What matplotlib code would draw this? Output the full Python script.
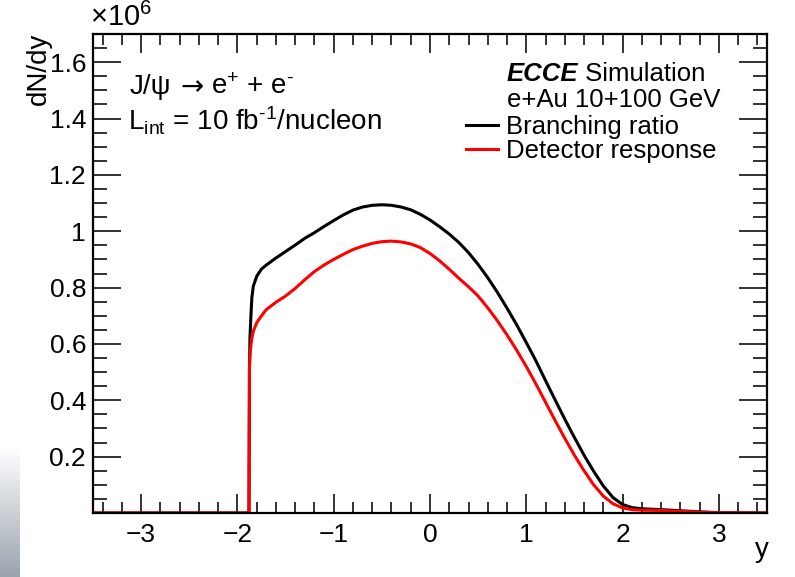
import numpy as np
import matplotlib
matplotlib.use("Agg")
from matplotlib import pyplot as plt
from matplotlib.ticker import MultipleLocator, FuncFormatter

plt.rcParams["font.family"] = ["Liberation Sans", "DejaVu Sans"]
plt.rcParams["mathtext.fontset"] = "custom"
plt.rcParams["mathtext.rm"] = "Liberation Sans"
plt.rcParams["mathtext.it"] = "Liberation Sans:italic"
plt.rcParams["mathtext.bf"] = "Liberation Sans:bold"

# rapidity y, dN/dy in units of 1e6
y_rap = [-3.5, -1.88, -1.875, -1.87, -1.86, -1.85, -1.835, -1.80, -1.75, -1.70,
         -1.60, -1.50, -1.40, -1.30, -1.20, -1.10, -1.00, -0.90, -0.80, -0.70,
         -0.60, -0.50, -0.40, -0.30, -0.20, -0.10, 0.00, 0.10, 0.20, 0.30,
         0.40, 0.50, 0.60, 0.70, 0.80, 0.90, 1.00, 1.10, 1.20, 1.30,
         1.40, 1.50, 1.60, 1.70, 1.80, 1.90, 2.00, 2.10, 2.20, 2.40,
         2.60, 2.80, 3.00, 3.50]
dndy_branching = [0, 0, 0.50, 0.62, 0.70, 0.765, 0.805, 0.84, 0.866, 0.880,
                  0.905, 0.928, 0.951, 0.975, 0.995, 1.017, 1.038, 1.058, 1.075, 1.086,
                  1.092, 1.094, 1.092, 1.086, 1.076, 1.060, 1.040, 1.016, 0.990, 0.960,
                  0.924, 0.882, 0.835, 0.783, 0.727, 0.668, 0.605, 0.540, 0.470, 0.401,
                  0.333, 0.268, 0.205, 0.148, 0.096, 0.055, 0.030, 0.019, 0.015, 0.012,
                  0.008, 0.004, 0.001, 0]
dndy_detector = [0, 0, 0.52, 0.56, 0.595, 0.62, 0.645, 0.675, 0.700, 0.722,
                 0.748, 0.770, 0.797, 0.828, 0.857, 0.880, 0.900, 0.918, 0.935, 0.947,
                 0.957, 0.963, 0.965, 0.962, 0.955, 0.942, 0.921, 0.895, 0.865, 0.833,
                 0.803, 0.770, 0.728, 0.682, 0.632, 0.578, 0.520, 0.458, 0.393, 0.328,
                 0.265, 0.205, 0.150, 0.100, 0.060, 0.033, 0.018, 0.012, 0.010, 0.009,
                 0.006, 0.003, 0.001, 0]

W, H = 795, 577
fig = plt.figure(figsize=(W / 100, H / 100), dpi=100)
ax = fig.add_axes([93 / W, 1 - 513 / H, 674 / W, 479 / H])

ax.plot(y_rap, dndy_branching, color="black", lw=2.2, label="Branching ratio")
ax.plot(y_rap, dndy_detector, color="red", lw=2.2, label="Detector response")

ax.set_xlim(-3.5, 3.5)
ax.set_ylim(0, 1.7)

ax.xaxis.set_major_locator(MultipleLocator(1))
ax.xaxis.set_minor_locator(MultipleLocator(0.2))
ax.yaxis.set_major_locator(MultipleLocator(0.2))
ax.yaxis.set_minor_locator(MultipleLocator(0.05))
ax.yaxis.set_major_formatter(FuncFormatter(lambda v, p: "" if abs(v) < 1e-9 else "%g" % v))
ax.xaxis.set_major_formatter(FuncFormatter(lambda v, p: ("%g" % v).replace("-", "\u2212")))

ax.tick_params(axis="both", which="both", direction="in", top=True, right=True,
               labelsize=19, width=1.3, color="#222222")
ax.tick_params(axis="x", which="major", length=14, pad=7)
ax.tick_params(axis="x", which="minor", length=8)
ax.tick_params(axis="y", which="major", length=20, pad=5)
ax.tick_params(axis="y", which="minor", length=10)
for s in ax.spines.values():
    s.set_linewidth(1.6)

fig.text(39 / W, 1 - 33 / H, "dN/dy", rotation=90, ha="center", va="top", fontsize=20)
fig.text(762 / W, 1 - 550 / H, "y", ha="center", va="center", fontsize=20)
fig.text(90 / W, 1 - 17 / H, r"$\times$10$^{6}$", ha="left", va="center", fontsize=21)

# J/psi -> e+ e- line, arrow taken from DejaVu (Liberation's arrow is tiny)
t1 = fig.text(130 / W, 1 - 87 / H, "J/\u03c8", ha="left", va="center", fontsize=20)
t2 = ax.annotate("\u2192", xy=(1, 0.5), xycoords=t1, xytext=(9, 0), textcoords="offset pixels",
                 ha="left", va="center", fontsize=20, family="DejaVu Sans")
ax.annotate(r"e$^{+}$ + e$^{\text{-}}$", xy=(1, 0.5), xycoords=t2, xytext=(7, 0),
            textcoords="offset pixels", ha="left", va="center", fontsize=20)
fig.text(128 / W, 1 - 121 / H, r"L$_{\mathrm{int}}$ = 10 fb$^{\text{-}1}$/nucleon",
         ha="left", va="center", fontsize=20)

t_ecce = fig.text(507 / W, 1 - 74 / H, "ECCE", ha="left", va="center",
                  fontsize=18.5, fontweight="bold", fontstyle="italic")
ax.annotate(" Simulation", xy=(1, 0.5), xycoords=t_ecce, ha="left", va="center", fontsize=18.5)
fig.text(507 / W, 1 - 100 / H, "e+Au 10+100 GeV", ha="left", va="center", fontsize=18.5)

ax.legend(loc="upper left", bbox_to_anchor=(466 / W, 1 - 115 / H), bbox_transform=fig.transFigure,
          frameon=False, fontsize=18.5, handlelength=1.25, handletextpad=0.32,
          borderpad=0, borderaxespad=0, labelspacing=0.0)

# grey gradient strip at the lower-left edge of the screenshot
gax = fig.add_axes([0, 0, 20 / W, 130 / H])
grad = np.linspace(0, 1, 100).reshape(-1, 1)
gax.imshow(grad, aspect="auto", cmap=matplotlib.colors.LinearSegmentedColormap.from_list(
    "g", ["#9aa4ae", "#ffffff"]), origin="lower")
gax.axis("off")

fig.savefig("out.png", dpi=100)
